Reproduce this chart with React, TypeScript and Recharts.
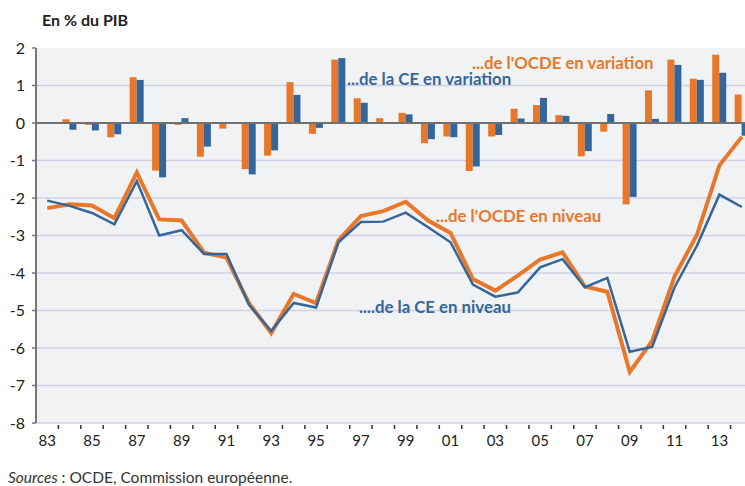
import React from "react";
import {
  ComposedChart,
  Bar,
  Line,
  XAxis,
  YAxis,
  CartesianGrid,
  ReferenceLine,
} from "recharts";

const years = [
  1983, 1984, 1985, 1986, 1987, 1988, 1989, 1990, 1991, 1992, 1993, 1994, 1995, 1996, 1997, 1998,
  1999, 2000, 2001, 2002, 2003, 2004, 2005, 2006, 2007, 2008, 2009, 2010, 2011, 2012, 2013, 2014,
];

// solde en niveau
const ocdeNiveau = [
  -2.27, -2.17, -2.2, -2.54, -1.32, -2.57, -2.6, -3.46, -3.59, -4.8, -5.6, -4.56, -4.8, -3.13, -2.48, -2.35,
  -2.1, -2.6, -2.93, -4.16, -4.47, -4.07, -3.64, -3.45, -4.36, -4.5, -6.64, -5.81, -4.09, -2.98, -1.13, -0.37,
];
const ceNiveau = [
  -2.07, -2.21, -2.4, -2.7, -1.55, -3.0, -2.86, -3.49, -3.49, -4.84, -5.55, -4.8, -4.92, -3.18, -2.64, -2.63,
  -2.39, -2.78, -3.18, -4.31, -4.63, -4.52, -3.85, -3.63, -4.38, -4.13, -6.1, -5.97, -4.38, -3.27, -1.91, -2.24,
];

// variation annuelle (pas de valeur pour 1983)
const ocdeVariation = [
  null, 0.1, -0.05, -0.38, 1.22, -1.27, -0.05, -0.9, -0.15, -1.23, -0.87, 1.09, -0.29, 1.69, 0.66, 0.13,
  0.27, -0.54, -0.36, -1.28, -0.36, 0.38, 0.48, 0.21, -0.89, -0.23, -2.17, 0.87, 1.69, 1.18, 1.82, 0.76,
];
const ceVariation = [
  null, -0.18, -0.2, -0.3, 1.15, -1.45, 0.13, -0.63, 0, -1.37, -0.73, 0.75, -0.13, 1.73, 0.54, 0.01,
  0.23, -0.43, -0.38, -1.16, -0.32, 0.12, 0.67, 0.19, -0.75, 0.24, -1.97, 0.11, 1.55, 1.15, 1.34, -0.34,
];

const yTicks = [2, 1, 0, -1, -2, -3, -4, -5, -6, -7, -8];

const data = years.map((year, i) => ({
  year,
  ocdeNiveau: ocdeNiveau[i],
  ceNiveau: ceNiveau[i],
  ocdeVariation: ocdeVariation[i],
  ceVariation: ceVariation[i],
}));

const ORANGE = "#e8772a";
const BLUE = "#35669a";
const FONT = "Lato, 'Open Sans', sans-serif";

const CHART_W = 753;
const CHART_H = 460;
const Y_AXIS_W = 36;
const HALF_BAND = (CHART_W - Y_AXIS_W) / years.length / 2;

function YearTick(props: any) {
  const { x, y, payload } = props;
  const year: number = payload.value;
  return (
    <g>
      <line x1={x + HALF_BAND} x2={x + HALF_BAND} y1={y + 2} y2={y + 6} stroke="#333" strokeWidth={1.5} />
      {year % 2 === 1 && (
        <text x={x} y={y + 23} textAnchor="middle" fontSize={15} fill="#222" fontFamily={FONT}>
          {String(year).slice(2)}
        </text>
      )}
    </g>
  );
}

export default function App() {
  return (
    <div
      style={{
        position: "absolute",
        left: 0,
        top: 0,
        width: 745,
        height: 486,
        overflow: "hidden",
        background: "#fff",
        fontFamily: FONT,
      }}
    >
      <ComposedChart
        width={CHART_W}
        height={CHART_H}
        data={data}
        margin={{ top: 48, right: 0, bottom: 7, left: 0 }}
        barCategoryGap="18%"
        barGap={0}
      >
        <CartesianGrid
          fill="#f1f2f4"
          stroke="#cfd0e6"
          strokeWidth={1.5}
          vertical={false}
          horizontalValues={[1, -1, -2, -3, -4, -5, -6, -7, -8]}
        />
        <XAxis
          dataKey="year"
          interval={0}
          axisLine={false}
          tickLine={false}
          tickSize={0}
          tickMargin={0}
          height={30}
          tick={<YearTick />}
        />
        <YAxis
          width={Y_AXIS_W}
          domain={[-8, 2]}
          ticks={yTicks}
          interval={0}
          axisLine={{ stroke: "#777", strokeWidth: 2 }}
          tickLine={{ stroke: "#777", strokeWidth: 1.5 }}
          tickSize={4}
          tickMargin={7}
          tick={{ fill: "#222", fontSize: 16, fontFamily: FONT }}
        />
        <Bar dataKey="ocdeVariation" fill={ORANGE} isAnimationActive={false} />
        <Bar dataKey="ceVariation" fill={BLUE} isAnimationActive={false} />
        <ReferenceLine y={0} stroke="#707070" strokeWidth={2} />
        <Line
          type="linear"
          dataKey="ocdeNiveau"
          stroke={ORANGE}
          strokeWidth={4}
          dot={false}
          isAnimationActive={false}
        />
        <Line
          type="linear"
          dataKey="ceNiveau"
          stroke={BLUE}
          strokeWidth={2.5}
          dot={false}
          isAnimationActive={false}
        />
      </ComposedChart>

      <svg
        width={745}
        height={486}
        style={{ position: "absolute", left: 0, top: 0, pointerEvents: "none" }}
        fontFamily={FONT}
      >
        <text x={42} y={26} fontSize={16} fontWeight={700} fill="#222">
          En % du PIB
        </text>
        <text x={472} y={69} fontSize={16.8} fontWeight={700} fill={ORANGE}>
          ...de l'OCDE en variation
        </text>
        <text x={347} y={85} fontSize={16.8} fontWeight={700} fill={BLUE}>
          ...de la CE en variation
        </text>
        <text x={436} y={222} fontSize={16.8} fontWeight={700} fill={ORANGE}>
          ...de l'OCDE en niveau
        </text>
        <text x={359} y={313} fontSize={16.8} fontWeight={700} fill={BLUE}>
          ....de la CE en niveau
        </text>
        <text x={8} y={483} fontSize={15.5} fill="#333">
          <tspan fontStyle="italic">Sources</tspan> : OCDE, Commission européenne.
        </text>
      </svg>
    </div>
  );
}
